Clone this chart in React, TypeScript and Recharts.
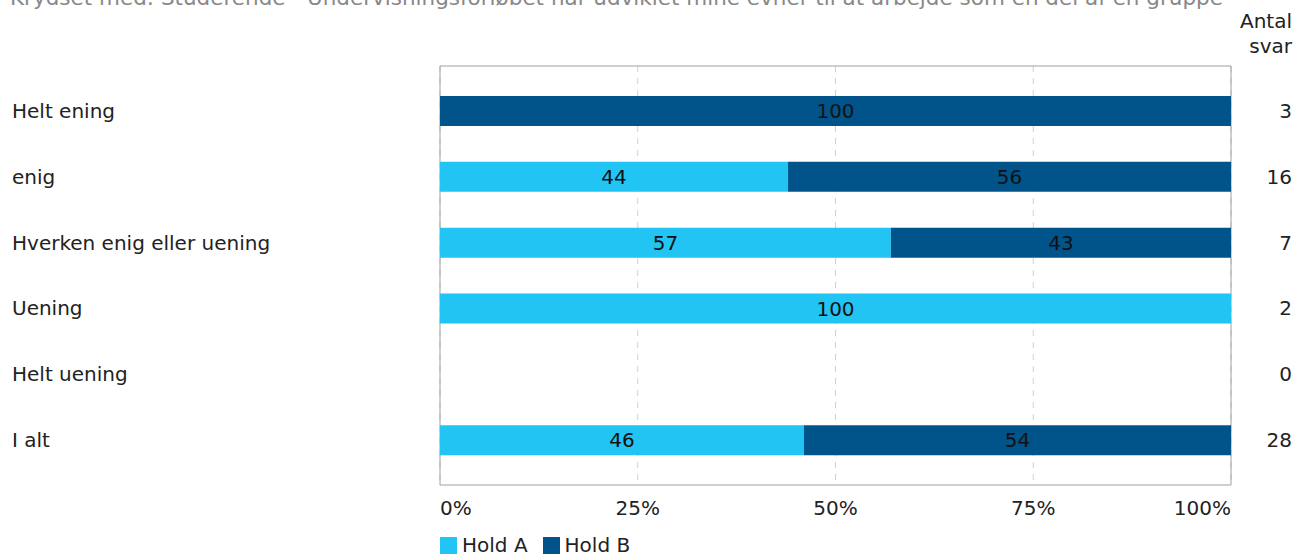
import { Bar, BarChart, CartesianGrid, LabelList, XAxis, YAxis } from "recharts";

const categories = ["Helt ening", "enig", "Hverken enig eller uening", "Uening", "Helt uening", "I alt"];
const holdA = [0, 44, 57, 100, 0, 46];
const holdB = [100, 56, 43, 0, 0, 54];
const antalSvar = [3, 16, 7, 2, 0, 28];
const xTicks = [0, 25, 50, 75, 100];
const seriesNames = ["Hold A", "Hold B"];
const seriesColors = ["#21C4F2", "#00548A"];

const title =
  "Krydset med: Studerende - Undervisningsforløbet har udviklet mine evner til at arbejde som en del af en gruppe";

const data = categories.map((name, i) => ({
  name,
  a: holdA[i],
  b: holdB[i],
  n: antalSvar[i],
}));

const FONT = "'DejaVu Sans', Verdana, sans-serif";
const FS = 20;

function LeftTick({ y, payload }: any) {
  return (
    <text x={12} y={y} dy={7} textAnchor="start" fontSize={FS} fill="#222" fontFamily={FONT}>
      {payload.value}
    </text>
  );
}

function RightTick({ y, payload }: any) {
  const idx = categories.indexOf(payload.value);
  return (
    <text x={1292} y={y} dy={7} textAnchor="end" fontSize={FS} fill="#222" fontFamily={FONT}>
      {antalSvar[idx]}
    </text>
  );
}

function BottomTick({ x, y, payload, index }: any) {
  const anchor = index === 0 ? "start" : index === xTicks.length - 1 ? "end" : "middle";
  return (
    <text x={x} y={y} dy={22} textAnchor={anchor} fontSize={FS} fill="#222" fontFamily={FONT}>
      {payload.value}%
    </text>
  );
}

function ValueLabel({ x, y, width, height, value }: any) {
  if (!value) return null;
  return (
    <text
      x={x + width / 2}
      y={y + height / 2}
      dy={7}
      textAnchor="middle"
      fontSize={FS}
      fill="#111"
      fontFamily={FONT}
    >
      {value}
    </text>
  );
}

export default function App() {
  return (
    <div style={{ position: "absolute", left: 0, top: 0, width: 1307, height: 556, fontFamily: FONT, background: "#fff", overflow: "hidden" }}>
      <div style={{ position: "absolute", left: 10, top: -15, fontSize: 21.5, color: "#888", whiteSpace: "nowrap" }}>
        {title}
      </div>
      <div style={{ position: "absolute", right: 15, top: 9, fontSize: FS, color: "#222", textAlign: "right", lineHeight: "25px" }}>
        Antal
        <br />
        svar
      </div>
      <BarChart
        width={1307}
        height={556}
        data={data}
        layout="vertical"
        barSize={30}
        margin={{ top: 66, right: 0, left: 0, bottom: 41 }}
      >
        <CartesianGrid horizontal={false} stroke="#d0d0d0" strokeDasharray="6 6" />
        <CartesianGrid
          stroke="#a0a0a0"
          horizontalCoordinatesGenerator={({ offset }: any) => [offset.top, offset.top + offset.height]}
          verticalCoordinatesGenerator={({ offset }: any) => [offset.left, offset.left + offset.width]}
        />
        <XAxis
          type="number"
          domain={[0, 100]}
          ticks={xTicks}
          axisLine={false}
          tickLine={false}
          tick={<BottomTick />}
          height={30}
          interval={0}
        />
        <YAxis
          yAxisId="left"
          type="category"
          dataKey="name"
          width={440}
          axisLine={false}
          tickLine={false}
          tick={<LeftTick />}
          padding={{ top: 12, bottom: 12 }}
        />
        <YAxis
          yAxisId="right"
          orientation="right"
          type="category"
          dataKey="name"
          width={76}
          axisLine={false}
          tickLine={false}
          tick={<RightTick />}
          padding={{ top: 12, bottom: 12 }}
        />
        <Bar yAxisId="left" dataKey="a" name={seriesNames[0]} stackId="s" fill={seriesColors[0]} isAnimationActive={false}>
          <LabelList dataKey="a" content={<ValueLabel />} />
        </Bar>
        <Bar yAxisId="left" dataKey="b" name={seriesNames[1]} stackId="s" fill={seriesColors[1]} isAnimationActive={false}>
          <LabelList dataKey="b" content={<ValueLabel />} />
        </Bar>
      </BarChart>
      <div style={{ position: "absolute", left: 440, top: 533, display: "flex", gap: 15, fontSize: FS, color: "#222" }}>
        {seriesNames.map((s, i) => (
          <div key={s} style={{ display: "flex", alignItems: "center", gap: 5 }}>
            <span style={{ display: "inline-block", width: 17, height: 17, background: seriesColors[i] }} />
            <span>{s}</span>
          </div>
        ))}
      </div>
    </div>
  );
}
